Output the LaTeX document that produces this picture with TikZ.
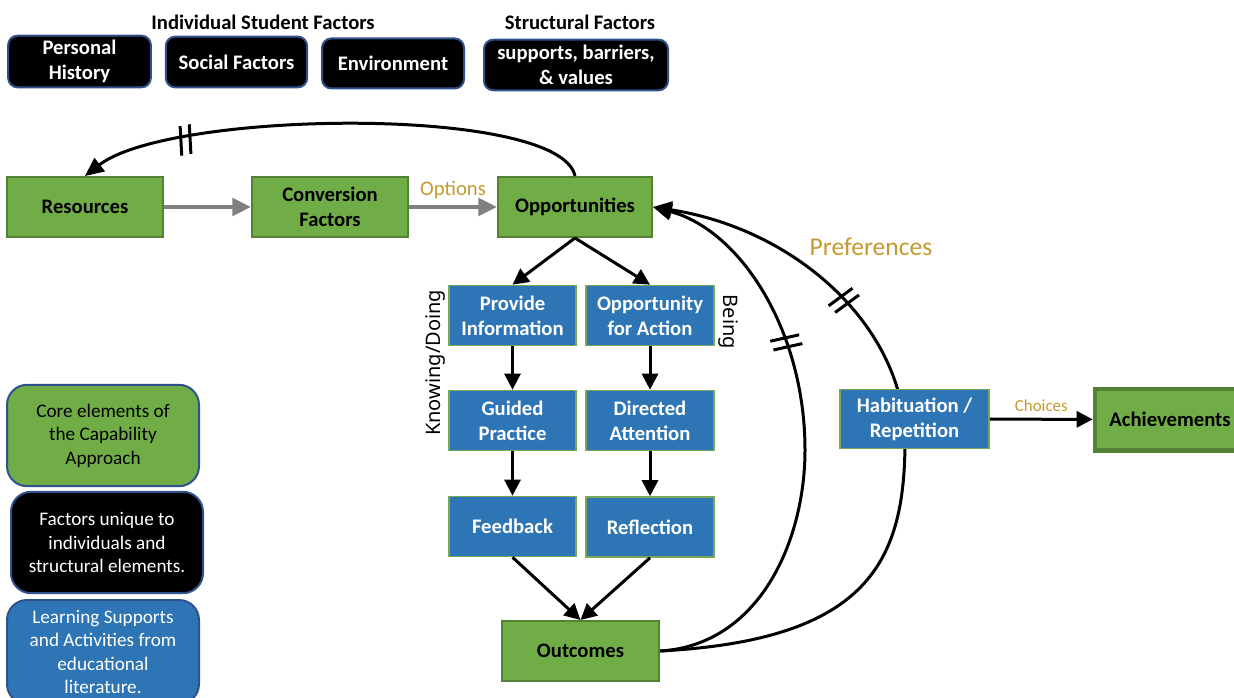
\documentclass[tikz,border=0pt]{standalone}
\usepackage{fontspec}
\setmainfont{Carlito}
\newfontfamily\sidefont{Noto Sans}
\usetikzlibrary{arrows.meta, decorations.markings}

\definecolor{capgreen}{HTML}{70AD47}
\definecolor{capline}{HTML}{548235}
\definecolor{learnblue}{HTML}{2E75B6}
\definecolor{learnline}{HTML}{7AA85A}
\definecolor{factline}{HTML}{2F528F}
\definecolor{choicegold}{HTML}{C49A2C}
\definecolor{feedgray}{HTML}{808080}

\tikzset{
  cut at/.style={postaction={decorate, decoration={markings,
    mark=at position #1 with {\draw[line width=2.25pt, -] (-5pt,-11pt) -- (-2pt,11pt) (2pt,-11pt) -- (5pt,11pt);}}}}
}

\begin{document}
\begin{tikzpicture}[x=0.75pt, y=-0.75pt,
    boxfont/.style={font=\bfseries\fontsize{15.5}{18.75}\selectfont},
    core/.style={boxfont, draw=capline, fill=capgreen, line width=1.5pt, minimum width=117pt, minimum height=45pt, align=center},
    learn/.style={boxfont, draw=learnline, fill=learnblue, text=white, line width=1.2pt, minimum width=95pt, minimum height=45pt, align=center},
    factor/.style={boxfont, draw=factline, fill=black, text=white, line width=1.5pt, rounded corners=7pt, minimum height=38pt, align=center},
    key/.style={draw=factline, line width=1.5pt, rounded corners=15pt, minimum width=144pt, minimum height=76pt, align=center, font=\fontsize{14.4}{17.6}\selectfont},
    tag/.style={text=choicegold, font=\fontsize{15.5}{18}\selectfont},
    side/.style={font=\sidefont\fontsize{15}{18}\selectfont},
    flow/.style={line width=2.25pt, -{Triangle[length=12pt, width=12pt]}},
    loop/.style={line width=2.25pt, -{Triangle[length=14pt, width=12.5pt]}},
    feed/.style={line width=3pt, draw=feedgray, -{Triangle[length=14pt, width=13pt]}, color=feedgray}
  ]
  \useasboundingbox (0,0) rectangle (1234,698);

  % factor headings and boxes
  \node[boxfont] (indiv) at (263,22) {Individual Student Factors};
  \node[boxfont] (struct) at (580,22) {Structural Factors};
  \node[factor, minimum width=107pt] (hist) at (79.5,61.5) {Personal\\History};
  \node[factor, minimum width=106pt] (social) at (236.5,62) {Social Factors};
  \node[factor, minimum width=106.5pt, minimum height=37.5pt] (env) at (393,63.5) {Environment};
  \node[factor, minimum width=138pt] (supp) at (576,65) {supports, barriers,\\\& values};

  % capability chain
  \node[core] (res) at (85,207) {Resources};
  \node[core] (conv) at (330,207) {Conversion\\Factors};
  \node[core, minimum width=115.5pt] (opp) at (575,207) {Opportunities};
  \node[core, minimum width=118pt] (out) at (580.5,651) {Outcomes};
  \node[core, draw=capline, line width=3.5pt, minimum width=112.5pt, minimum height=46pt] (ach) at (1170,419.5) {Achievements};

  % learning supports
  \node[learn] (info) at (512.5,315.5) {Provide\\Information};
  \node[learn, minimum width=96pt] (action) at (650,315.5) {Opportunity\\for Action};
  \node[learn] (guided) at (512.5,420.5) {Guided\\Practice};
  \node[learn, minimum width=96pt] (attn) at (650,420.5) {Directed\\Attention};
  \node[learn] (fb) at (512.5,526.5) {Feedback};
  \node[learn, minimum width=96pt] (refl) at (650,527) {Reflection};

  \node[side, rotate=90] (know) at (436,363) {Knowing/Doing};
  \node[side, rotate=-90] (being) at (728,322) {Being};

  \draw[feed] (res) -- (conv);
  \draw[feed] (conv) -- node[tag, above=1pt] {Options} (opp);
  \draw[loop, cut at=0.79] (opp.north) .. controls (560,105) and (170,110) .. (res.north);

  \draw[flow] (opp.south) -- (info.north);
  \draw[flow] (opp.south) -- (action.north);
  \draw[flow] (info) -- (guided);
  \draw[flow] (guided) -- (fb);
  \draw[flow] (action) -- (attn);
  \draw[flow] (attn) -- (refl);
  \draw[flow] (fb.south) -- (out.north);
  \draw[flow] (refl.south) -- (out.north);

  % feedback loops back to opportunities
  \draw[loop, cut at=0.66] (out.east) .. controls (760,645) and (805,540) .. (805,450)
    .. controls (805,330) and (740,230) .. (opp.east);
  \draw[loop, cut at=0.71] (out.east) .. controls (870,640) and (905,560) .. (905,440)
    .. controls (905,330) and (800,230) .. (opp.east);
  \node[tag, font=\fontsize{19.2}{22}\selectfont] (pref) at (871,247) {Preferences};

  \node[learn, minimum width=112pt, minimum height=44pt] (habit) at (914.5,419) {Habituation /\\Repetition};
  \draw[flow] (habit) -- node[tag, above=1pt, font=\fontsize{12.7}{15}\selectfont] {Choices} (ach);

  % key
  \node[key, fill=capgreen] (keycore) at (103,435.5) {Core elements of\\the Capability\\Approach};
  \node[key, fill=black, text=white] (keyfact) at (107,542.5) {Factors unique to\\individuals and\\structural elements.};
  \node[key, fill=learnblue, text=white, minimum height=78pt] (keylearn) at (103,652) {Learning Supports\\and Activities from\\educational\\literature.};
\end{tikzpicture}
\end{document}
